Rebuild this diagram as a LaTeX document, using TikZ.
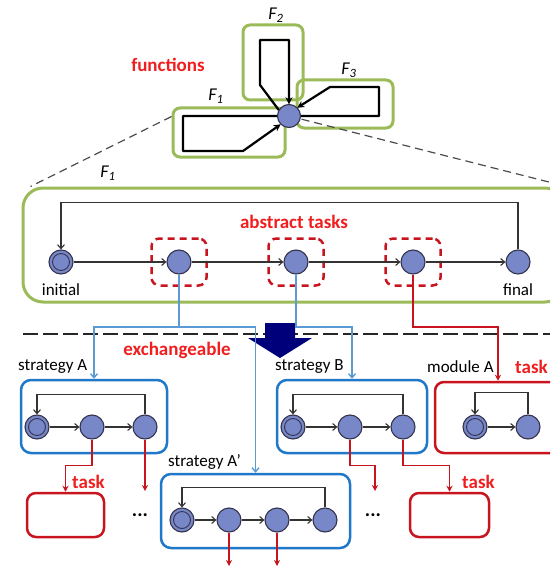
\documentclass[tikz,border=0pt]{standalone}
\usepackage{fontspec}
\setmainfont{Carlito}
\usetikzlibrary{arrows.meta,calc}
\definecolor{fgreen}{HTML}{9BBB59}
\definecolor{bboxc}{HTML}{1F78C8}
\definecolor{bconn}{HTML}{5B9BD5}
\definecolor{rboxc}{HTML}{C8141E}
\definecolor{rconn}{HTML}{C8141E}
\definecolor{rtext}{HTML}{F01E1E}
\definecolor{statefill}{HTML}{7887C8}
\definecolor{stroke}{HTML}{33334D}
\definecolor{navyarrow}{HTML}{00007A}
\begin{document}
\begin{tikzpicture}[x=1pt,y=-1pt,
  state/.style={circle,draw=stroke,fill=statefill,line width=1.1pt,minimum size=24pt,inner sep=0pt},
  initstate/.style={state,path picture={\draw[stroke,line width=0.9pt] (path picture bounding box.center) circle (8.5pt);}},
  tr/.style={draw=black!80,line width=1.1pt,-{Straight Barb[length=4pt,width=7pt]}},
  fpath/.style={draw=black,line width=2.2pt,line join=round,-{Stealth[length=7pt,width=7pt]}},
  zoomline/.style={draw=black!70,line width=1.2pt,dash pattern=on 8pt off 5pt},
  gbox/.style={draw=fgreen,line width=3pt,rounded corners=7pt,inner sep=0pt},
  bbox/.style={draw=bboxc,line width=2.5pt,rounded corners=10pt,inner sep=0pt},
  rbox/.style={draw=rboxc,line width=2.5pt,rounded corners=9pt,inner sep=0pt},
  tbox/.style={draw=rboxc,dash pattern=on 7pt off 5pt,line width=2.5pt,rounded corners=8pt,minimum width=55pt,minimum height=47pt,inner sep=0pt},
  bc/.style={draw=bconn,line width=1.4pt,-{Straight Barb[length=4pt,width=7pt]}},
  rc/.style={draw=rconn,line width=1.8pt,-{Stealth[length=6pt,width=6pt]}},
  lbl/.style={font=\fontsize{17}{19}\selectfont,inner sep=0pt},
  rlbl/.style={lbl,text=rtext,font=\fontsize{19}{21}\selectfont\bfseries},
  flbl/.style={font=\fontsize{18}{20}\selectfont\itshape,inner sep=0pt},
]
\path[use as bounding box,clip] (0,0) rectangle (550,567);

% ---------- the three functions around the hub ----------
\node[gbox,minimum width=60pt,minimum height=75pt] (f2box) at (273,62.5) {};
\node[gbox,minimum width=96pt,minimum height=48pt] (f3box) at (345,104) {};
\node[gbox,minimum width=112pt,minimum height=49pt] (f1box) at (229,132.5) {};
\node[circle,minimum size=23pt,inner sep=0pt] (c) at (289,116) {};

\draw[fpath] (c.150) -- (260,85) -- (260,40) -- (289,40) -- (c.north);
\draw[fpath] (c.east) -- (379,116) -- (379,87) -- (330,87) -- (c.45);
\draw[fpath] (c.west) -- (183,116) -- (183,151) -- (243,151) -- (c.225);

\node[flbl] (lf2) at (276,15) {F\textsubscript{2}};
\node[flbl] (lf3) at (349,70) {F\textsubscript{3}};
\node[flbl] (lf1) at (216,96) {F\textsubscript{1}};
\node[rlbl] (lfun) at (168,65) {functions};

% ---------- expanded view of F1 ----------
\node[gbox,rounded corners=20pt,minimum width=542pt,minimum height=114pt] (bigbox) at (294,245) {};
\draw[zoomline] ($(f1box.north west)+(0,10)$) -- ($(bigbox.north west)+(9,0)$);
\draw[zoomline] (c.center) -- (bigbox.north east);
\node[state,minimum size=23pt] (hub) at (c) {};
\node[flbl] (lbig) at (108,173) {F\textsubscript{1}};

\node[initstate] (i) at (61,262) {};
\node[state] (t1) at (179,262) {};
\node[state] (t2) at (296,262) {};
\node[state] (t3) at (413,262) {};
\node[state] (fin) at (518,262) {};
\node[tbox] (d1) at (t1) {};
\node[tbox] (d2) at (t2) {};
\node[tbox] (d3) at (t3) {};
\draw[tr] (i) -- (t1);
\draw[tr] (t1) -- (t2);
\draw[tr] (t2) -- (t3);
\draw[tr] (t3) -- (fin);
\draw[tr] (fin.north) -- ++(0,-47) -| (i.north);
\node[lbl] (linit) at (61,290) {initial};
\node[lbl] (lfin) at (518,290) {final};
\node[rlbl] (labs) at (294,222) {abstract tasks};

% ---------- separator and exchange arrow ----------
\draw[black!85,line width=2.6pt,dash pattern=on 15pt off 5pt] (23,334) -- (550,334);
\fill[navyarrow] (265,323) -- (295,323) -- (295,338) -- (312,338) -- (280,358) -- (248,338) -- (265,338) -- cycle;
\node[rlbl] (lexch) at (177,350) {exchangeable};

% ---------- implementations ----------
\node[bbox,minimum width=146pt,minimum height=73pt] (sA) at (94,416.5) {};
\node[bbox,minimum width=150pt,minimum height=73pt] (sB) at (352,416.5) {};
\node[rbox,minimum width=126pt,minimum height=71pt] (mA) at (498,417.5) {};
\node[bbox,minimum width=189pt,minimum height=74pt] (sAp) at (255.5,511) {};
\node[rbox,minimum width=77pt,minimum height=44pt] (tL) at (65.5,515) {};
\node[rbox,minimum width=79pt,minimum height=44pt] (tR) at (449.5,515) {};

\node[lbl,anchor=west] (lsA) at (18,367) {strategy A};
\node[lbl,anchor=west] (lsB) at (275,367) {strategy B};
\node[lbl,anchor=west] (lmA) at (427,367) {module A};
\node[rlbl,anchor=west] (ltask1) at (515,367) {task};
\node[lbl,anchor=west] (lsAp) at (168,462) {strategy A'};
\node[rlbl,anchor=west] (ltask2) at (72,482) {task};
\node[rlbl,anchor=west] (ltask3) at (462,482) {task};
\node[lbl,font=\fontsize{20}{22}\selectfont\bfseries] (dots1) at (140,515) {...};
\node[lbl,font=\fontsize{20}{22}\selectfont\bfseries] (dots2) at (373,515) {...};

% strategy A
\node[initstate] (a0) at (37,427) {};
\node[state] (a1) at (92,427) {};
\node[state] (a2) at (145,427) {};
\draw[tr] (a0) -- (a1);
\draw[tr] (a1) -- (a2);
\draw[tr] (a2.north) -- ++(0,-20) -| (a0.north);

% strategy B
\node[initstate] (b0) at (293,427) {};
\node[state] (b1) at (350,427) {};
\node[state] (b2) at (403,427) {};
\draw[tr] (b0) -- (b1);
\draw[tr] (b1) -- (b2);
\draw[tr] (b2.north) -- ++(0,-20) -| (b0.north);

% module A
\node[initstate] (m0) at (475,427) {};
\node[state] (m1) at (528,427) {};
\draw[tr] (m0) -- (m1);
\draw[tr] (m1.north) -- ++(0,-22) -| (m0.north);

% strategy A'
\node[initstate] (p0) at (182,520) {};
\node[state] (p1) at (229,520) {};
\node[state] (p2) at (277,520) {};
\node[state] (p3) at (325,520) {};
\draw[tr] (p0) -- (p1);
\draw[tr] (p1) -- (p2);
\draw[tr] (p2) -- (p3);
\draw[tr] (p3.north) -- ++(0,-20) -| (p0.north);

% bindings of the abstract tasks
\coordinate (split) at (0,327);
\draw[bc] (t1.south) -- (t1.south |- split) -| (sA.north);
\draw[bc] (t1.south |- split) -| (sAp.north);
\draw[bc] (t2.south) -- (t2.south |- split) -| (sB.north);
\draw[rc] (t3.south) -- (t3.south |- split) -| (mA.north);

% task calls inside the strategies
\coordinate (a2end) at (145,491);
\coordinate (b1end) at (375,491);
\coordinate (p1end) at (229,566);
\coordinate (p2end) at (277,566);
\draw[rc] (a1.south) -- ++(0,26) -| (tL.north);
\draw[rc] (a2.south) -- (a2end);
\draw[rc] (b1.south) -- ++(0,26) -| (b1end);
\draw[rc] (b2.south) -- ++(0,26) -| (tR.north);
\draw[rc] (p1.south) -- (p1end);
\draw[rc] (p2.south) -- (p2end);
\end{tikzpicture}
\end{document}
